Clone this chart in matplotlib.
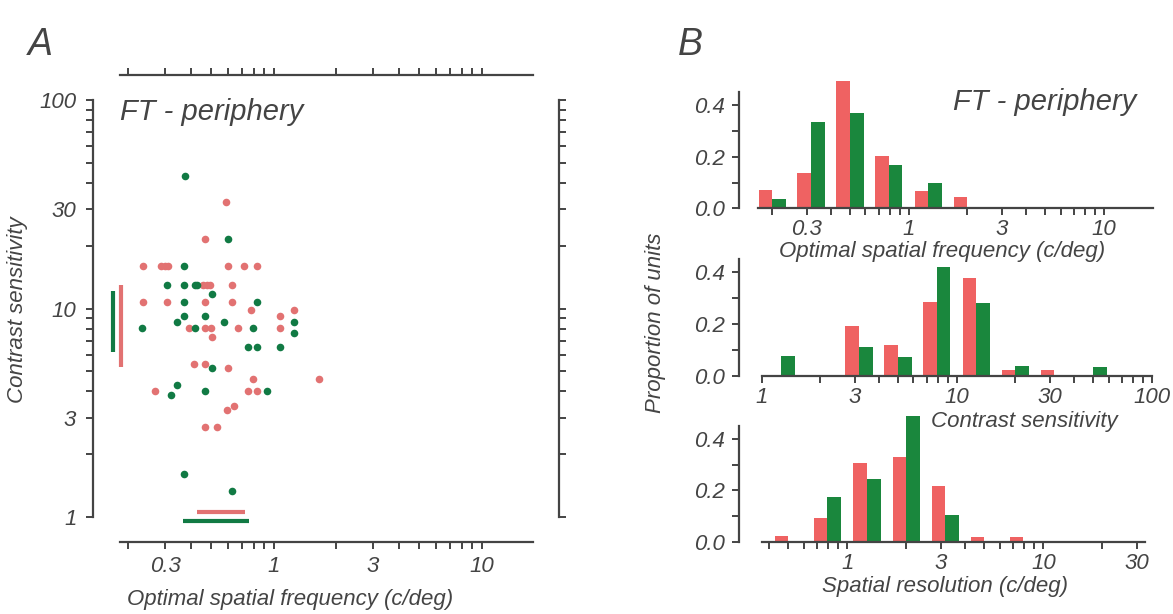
import matplotlib.pyplot as plt
from matplotlib.ticker import NullLocator

plt.rcParams['font.family'] = ['Liberation Sans', 'DejaVu Sans']
plt.rcParams['font.style'] = 'italic'

W, H = 1173, 614
INK = '#444444'
DOT_RED = '#e27272'
DOT_GREEN = '#117a44'
BAR_RED = '#ef6262'
BAR_GREEN = '#1a873d'

# ---- panel A: optimal spatial frequency vs contrast sensitivity
red_sf = [0.588, 0.466, 0.234, 0.286, 0.299, 0.31, 0.599, 0.72, 0.826,
          0.455, 0.475, 0.495, 0.63, 0.234, 0.308, 0.466, 0.63, 0.773,
          1.07, 1.25, 1.07, 0.39, 0.465, 0.50, 0.673, 0.502, 0.414, 0.466,
          0.599, 0.791, 1.65, 0.268, 0.752, 0.826, 0.593, 0.642, 0.466, 0.53]
red_cs = [32.5, 21.5, 16, 16, 16, 16, 16, 16, 16,
          13, 13, 13, 13, 10.8, 10.8, 10.8, 10.8, 9.84,
          9.24, 9.84, 8.03, 8.03, 8.03, 8.03, 8.03, 7.32, 5.42, 5.42,
          5.17, 4.59, 4.59, 4.03, 4.03, 4.03, 3.26, 3.41, 2.71, 2.71]
green_sf = [0.373, 0.599, 0.371, 0.308, 0.371, 0.417, 0.425, 0.502, 0.371,
            0.826, 0.371, 0.466, 0.344, 0.575, 0.231, 0.417, 0.791, 1.25,
            1.25, 0.752, 0.826, 1.07, 0.502, 0.344, 0.32, 0.466, 0.922,
            0.369, 0.626]
green_cs = [43.2, 21.5, 16, 13, 13, 13, 13, 11.8, 10.8,
            10.8, 9.24, 9.24, 8.58, 8.58, 8.03, 8.03, 8.03, 8.58,
            7.66, 6.51, 6.51, 6.51, 5.17, 4.3, 3.85, 4.03, 4.03,
            1.6, 1.33]

# ranges shown as bars along the axes
red_cs_range = [5.26, 12.97]
green_cs_range = [6.19, 12.2]
red_sf_range = [0.425, 0.726]
green_sf_range = [0.366, 0.758]

# ---- panel B: histograms (bin boundary between red and green bar)
sf_bins = [0.2, 0.316, 0.5, 0.79, 1.26, 2.0]
sf_red = [0.071, 0.136, 0.493, 0.203, 0.068, 0.043]
sf_green = [0.036, 0.336, 0.371, 0.168, 0.099, 0.0]

cs_bins = [1.26, 2.0, 3.16, 5.0, 7.9, 12.6, 20.0, 31.6, 50.0]
cs_red = [0.0, 0.0, 0.191, 0.12, 0.286, 0.379, 0.023, 0.023, 0.0]
cs_green = [0.075, 0.0, 0.110, 0.072, 0.421, 0.282, 0.036, 0.0, 0.034]

res_bins = [0.5, 0.79, 1.26, 2.0, 3.16, 5.0, 7.9]
res_red = [0.024, 0.092, 0.307, 0.328, 0.218, 0.021, 0.021]
res_green = [0.0, 0.176, 0.244, 0.488, 0.105, 0.0, 0.0]

sf_ticks = [0.2, 0.3, 0.4, 0.5, 0.6, 0.7, 0.8, 0.9, 1, 2, 3, 4, 5, 6, 7, 8, 9, 10]
cs_ticks = [1, 2, 3, 4, 5, 6, 7, 8, 9, 10, 20, 30, 40, 50, 60, 70, 80, 90, 100]
res_ticks = [0.4, 0.5, 0.6, 0.7, 0.8, 0.9, 1, 2, 3, 4, 5, 6, 7, 8, 9, 10, 20, 30]
labelled = {0.3: '0.3', 1: '1', 3: '3', 10: '10', 30: '30', 100: '100'}


def tick_labels(ticks):
    return [labelled.get(t, '') for t in ticks]


fig = plt.figure(figsize=(W / 100, H / 100), dpi=100)


def px_axes(l, t, r, b):
    return fig.add_axes([l / W, 1 - b / H, (r - l) / W, (b - t) / H])


def style(ax):
    for s in ax.spines.values():
        s.set_color(INK)
        s.set_linewidth(1.6)
    ax.tick_params(which='major', direction='out', length=5, width=1.4,
                   color=INK, labelcolor=INK, labelsize=16, pad=5)
    ax.xaxis.set_minor_locator(NullLocator())
    ax.yaxis.set_minor_locator(NullLocator())


# ---------------- panel A
ax = px_axes(93, 75, 559, 542)
ax.set_xscale('log')
ax.set_yscale('log')
ax.set_xlim(0.135, 23.5)
ax.set_ylim(0.759, 131.8)
ax.scatter(red_sf, red_cs, s=30, color=DOT_RED, linewidths=0, zorder=3)
ax.scatter(green_sf, green_cs, s=30, color=DOT_GREEN, linewidths=0, zorder=4)
ax.plot([0.169, 0.169], green_cs_range, color=DOT_GREEN, lw=3, solid_capstyle='butt')
ax.plot([0.185, 0.185], red_cs_range, color=DOT_RED, lw=3, solid_capstyle='butt')
ax.plot(red_sf_range, [1.053, 1.053], color=DOT_RED, lw=3, solid_capstyle='butt')
ax.plot(green_sf_range, [0.96, 0.96], color=DOT_GREEN, lw=3, solid_capstyle='butt')

style(ax)
ax.set_xticks(sf_ticks, labels=tick_labels(sf_ticks))
ax.set_yticks(cs_ticks, labels=tick_labels(cs_ticks))
ax.xaxis.set_minor_locator(NullLocator())
ax.yaxis.set_minor_locator(NullLocator())
ax.tick_params(top=True, right=True, labeltop=False, labelright=False)
ax.tick_params(axis='y', pad=7)
ax.spines['bottom'].set_bounds(0.182, 17.6)
ax.spines['top'].set_bounds(0.182, 17.6)
ax.spines['left'].set_bounds(1, 100)
ax.spines['right'].set_bounds(1, 100)

fig.text(120 / W, 1 - 112 / H, 'FT - periphery', fontsize=21, color=INK, va='center')
fig.text(290 / W, 1 - 600 / H, 'Optimal spatial frequency (c/deg)', fontsize=16,
         color=INK, ha='center', va='center')
fig.text(18 / W, 1 - 310 / H, 'Contrast sensitivity', fontsize=16, color=INK,
         ha='center', va='center', rotation=90)
fig.text(40 / W, 1 - 45 / H, 'A', fontsize=27, color=INK, ha='center', va='center')

# ---------------- panel B
HALF = 10 ** 0.07
PX_PER_UNIT = 258


def hist(ax, bins, red, green):
    red_left = [b / HALF for b in bins]
    red_w = [b - b / HALF for b in bins]
    green_w = [b * HALF - b for b in bins]
    ax.bar(red_left, red, width=red_w, align='edge', color=BAR_RED, linewidth=0)
    ax.bar(bins, green, width=green_w, align='edge', color=BAR_GREEN, linewidth=0)


panels = [
    ((739, 208.3), (0.1349, 19.4), (0.169, 17.9), sf_bins, sf_red, sf_green, sf_ticks),
    ((739, 375.5), (0.765, 110.2), (1, 100), cs_bins, cs_red, cs_green, cs_ticks),
    ((739, 542), (0.280, 39.4), (0.366, 33), res_bins, res_red, res_green, res_ticks),
]
YTOP = 0.52
for (left, base), xlim, xb, bins, red, green, ticks in panels:
    hx = px_axes(left, base - YTOP * PX_PER_UNIT, 1160, base)
    hx.set_xscale('log')
    hx.set_xlim(*xlim)
    hx.set_ylim(0, YTOP)
    hist(hx, bins, red, green)
    style(hx)
    hx.set_xticks(ticks, labels=tick_labels(ticks))
    hx.set_yticks([0, 0.1, 0.2, 0.3, 0.4], labels=['0.0', '', '0.2', '', '0.4'])
    hx.xaxis.set_minor_locator(NullLocator())
    hx.tick_params(axis='x', pad=3)
    hx.spines['top'].set_visible(False)
    hx.spines['right'].set_visible(False)
    hx.spines['bottom'].set_bounds(*xb)
    hx.spines['left'].set_bounds(0, 0.45)
    hx.patch.set_alpha(0)

fig.text(942 / W, 1 - 251.7 / H, 'Optimal spatial frequency (c/deg)', fontsize=16,
         color=INK, ha='center', va='center')
fig.text(1024 / W, 1 - 421.7 / H, 'Contrast sensitivity', fontsize=16,
         color=INK, ha='center', va='center')
fig.text(945 / W, 1 - 586.7 / H, 'Spatial resolution (c/deg)', fontsize=16,
         color=INK, ha='center', va='center')
fig.text(655 / W, 1 - 323 / H, 'Proportion of units', fontsize=16, color=INK,
         ha='center', va='center', rotation=90)
fig.text(953 / W, 1 - 102 / H, 'FT - periphery', fontsize=21, color=INK, va='center')
fig.text(690 / W, 1 - 45 / H, 'B', fontsize=27, color=INK, ha='center', va='center')

fig.savefig('out.png', dpi=100)
